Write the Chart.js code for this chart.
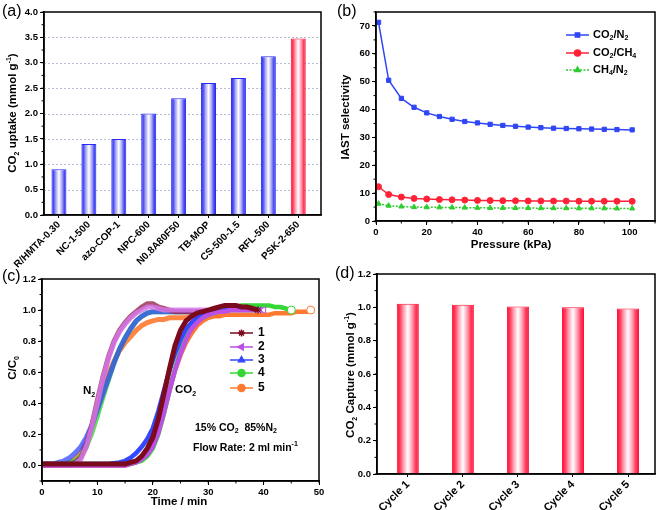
<!DOCTYPE html>
<html><head><meta charset="utf-8">
<script src="https://cdn.jsdelivr.net/npm/chart.js@4/dist/chart.umd.min.js"></script>
<style>
body{margin:0;background:#fff;width:661px;height:510px;position:relative;overflow:hidden}
canvas{position:absolute}
</style></head><body>
<canvas id="cc" width="330" height="255" style="left:0;top:255px"></canvas>
<canvas id="cd" width="331" height="255" style="left:330px;top:255px"></canvas>
<canvas id="ca" width="330" height="268" style="left:0;top:0"></canvas>
<canvas id="cb" width="331" height="260" style="left:330px;top:0"></canvas>
<script>
// ---------- DATA ----------
// (a)
const catA = ['R/HMTA-0.30','NC-1-500','azo-COP-1','NPC-600','N0.8A80F50','TB-MOP','CS-500-1.5','RFL-500','PSK-2-650'];
const uptakeA = [0.9,1.4,1.5,2.0,2.3,2.6,2.7,3.13,3.48];
const ticksAy = [0,0.5,1.0,1.5,2.0,2.5,3.0,3.5,4.0];
// (b)
const pressB = [1,5,10,15,20,25,30,35,40,45,50,55,60,65,70,75,80,85,90,95,101];
const co2n2B = [71.3,50.5,44.0,40.8,38.8,37.5,36.5,35.7,35.2,34.7,34.3,34.0,33.7,33.5,33.3,33.2,33.1,33.0,32.9,32.8,32.7];
const co2ch4B = [12.3,9.5,8.6,8.1,7.9,7.7,7.6,7.5,7.4,7.35,7.3,7.25,7.2,7.2,7.15,7.15,7.1,7.1,7.1,7.1,7.05];
const ch4n2B = [6.2,5.5,5.2,5.0,4.95,4.9,4.85,4.8,4.75,4.7,4.7,4.65,4.65,4.6,4.6,4.6,4.55,4.55,4.55,4.5,4.5];
const ticksBx = [0,20,40,60,80,100];
const ticksBy = [0,10,20,30,40,50,60,70];
// (c)
const runLabelsC = ['1','2','3','4','5'];
const timeN2C = [0,1,2,3,4,5,6,7,8,9,10,11,12,13,14,15,16,17,18,19,20,21,22,23,24,25,26,27,28,29,30];
const n2Run1 = [0.01,0.01,0.01,0.01,0.01,0.01,0.02,0.05,0.13,0.26,0.42,0.57,0.70,0.80,0.87,0.92,0.96,0.99,1.02,1.04,1.04,1.02,1.01,1.00,0.99,0.99,0.99,0.99,0.99,0.99,0.99];
const n2Run2 = [0,0,0,0,0,0,0.01,0.04,0.12,0.25,0.40,0.56,0.69,0.79,0.86,0.91,0.95,0.98,1.00,1.02,1.02,1.01,1.00,1.00,1.00,1.00,1.00,1.00,1.00,1.00,1.00];
const n2Run3 = [0.01,0.01,0.01,0.02,0.03,0.05,0.08,0.12,0.18,0.26,0.36,0.46,0.56,0.66,0.75,0.82,0.88,0.93,0.96,0.98,0.99,0.99,0.99,0.99,0.99,0.99,0.99,0.99,0.99,0.99,0.99];
const n2Run4 = [0,0,0,0,0.01,0.02,0.03,0.06,0.12,0.21,0.32,0.44,0.55,0.66,0.75,0.82,0.88,0.93,0.96,0.98,0.99,0.99,0.99,0.99,0.99,0.99,0.99,0.99,0.99,0.99,0.99];
const n2Run5 = [0,0,0,0,0.01,0.02,0.04,0.08,0.15,0.25,0.37,0.49,0.59,0.67,0.74,0.79,0.83,0.87,0.90,0.92,0.93,0.94,0.94,0.95,0.95,0.95,0.95,0.96,0.96,0.96,0.96];
const timeCO2C = [0,2,4,6,8,10,12,14,15,16,17,18,19,20,21,22,23,24,25,26,27,28,29,30,31,32,33,34,35,36,37,38,39,40,41,42,43,44,45,46,47,48,48.5];
const co2Run1 = [0.01,0.01,0.01,0.01,0.01,0.01,0.01,0.01,0.01,0.02,0.03,0.06,0.11,0.18,0.30,0.46,0.62,0.77,0.87,0.93,0.96,0.98,0.99,1.00,1.01,1.02,1.03,1.03,1.03,1.02,1.02,1.01,1.00];
const co2Run2 = [0,0,0,0,0,0,0,0,0,0.01,0.02,0.04,0.07,0.12,0.21,0.34,0.48,0.61,0.72,0.81,0.88,0.92,0.95,0.97,0.98,0.99,0.99,1.00,1.00,1.00,1.00,1.00,1.00,1.00];
const co2Run3 = [0.01,0.01,0.01,0.01,0.01,0.01,0.01,0.02,0.03,0.05,0.08,0.12,0.17,0.24,0.35,0.48,0.61,0.72,0.81,0.88,0.92,0.95,0.97,0.98,0.99,0.99,1.00,1.00,1.00,1.00,1.00,1.00,1.00,1.00];
const co2Run4 = [0.01,0.01,0.01,0.01,0.01,0.01,0.01,0.01,0.01,0.01,0.02,0.03,0.06,0.11,0.20,0.33,0.48,0.62,0.74,0.83,0.89,0.93,0.95,0.97,0.98,0.99,1.00,1.01,1.02,1.03,1.03,1.03,1.03,1.03,1.03,1.02,1.02,1.01,1.00];
const co2Run5 = [0,0,0,0,0,0,0,0,0,0.01,0.02,0.04,0.08,0.13,0.22,0.35,0.48,0.61,0.71,0.79,0.85,0.90,0.93,0.95,0.96,0.96,0.97,0.97,0.97,0.97,0.97,0.97,0.97,0.97,0.97,0.98,0.98,0.98,0.98,0.99,0.99,0.99,1.00];
const ticksCx = [0,10,20,30,40,50];
const ticksCy = [0,0.2,0.4,0.6,0.8,1.0,1.2];
// (d)
const cyclesD = ['Cycle 1','Cycle 2','Cycle 3','Cycle 4','Cycle 5'];
const captureD = [1.022,1.015,1.005,1.0,0.993];
const ticksDy = [0,0.2,0.4,0.6,0.8,1.0,1.2];

// ---------- STYLE / HELPERS ----------
const FF = "'Liberation Sans', Arial, sans-serif";
Chart.defaults.font.family = FF;
Chart.defaults.font.weight = 'bold';
Chart.defaults.color = '#000';

function rich(ctx, x, y, parts, size, align, rot, weight) {
  weight = weight || 'bold';
  ctx.save();
  ctx.translate(x, y); ctx.rotate(rot || 0);
  const fN = weight + ' ' + size + 'px ' + FF;
  const fS = weight + ' ' + Math.round(size * 0.65) + 'px ' + FF;
  let w = 0; const ws = [];
  parts.forEach(p => { ctx.font = p[1] ? fS : fN; const m = ctx.measureText(p[0]).width; ws.push(m); w += m; });
  let cx = align === 'center' ? -w / 2 : (align === 'right' ? -w : 0);
  ctx.textBaseline = 'middle'; ctx.textAlign = 'left'; ctx.fillStyle = '#000';
  parts.forEach((p, i) => {
    ctx.font = p[1] ? fS : fN;
    const dy = p[1] === 1 ? size * 0.32 : (p[1] === 2 ? -size * 0.38 : 0);
    ctx.fillText(p[0], cx, dy); cx += ws[i];
  });
  ctx.restore();
}
function seg(ctx, x1, y1, x2, y2) { ctx.beginPath(); ctx.moveTo(x1, y1); ctx.lineTo(x2, y2); ctx.stroke(); }

function linAxis(pos, min, max, ticks, size, fmt, extraTicks) {
  return {
    type: 'linear', position: pos, min: min, max: max, offset: false,
    afterBuildTicks: s => { s.ticks = ticks.map(v => ({ value: v })); },
    afterFit: s => { if (pos === 'left') s.width = size; else s.height = size; },
    grid: { drawOnChartArea: false, drawTicks: true, tickLength: 4, color: '#000', lineWidth: 1, offset: false },
    border: { display: true, color: '#000', width: 1.5 },
    ticks: Object.assign({ color: '#000', font: { size: 9.5, weight: 'bold' }, padding: 2, autoSkip: false, maxRotation: 0, callback: v => fmt(v) }, extraTicks || {})
  };
}
// bar axis: categories placed at positions 1..n on a linear scale
function barAxis(labels, min, max, size, fontSize) {
  const ax = linAxis('bottom', min, max, labels.map((l, i) => i + 1), size, v => labels[Math.round(v) - 1],
    { minRotation: 45, maxRotation: 45, padding: 1, font: { size: fontSize, weight: 'bold' } });
  ax.grid.tickLength = 3;
  return ax;
}
function gradFill(stops, pct) {
  return function (c) {
    const ch = c.chart, xs = ch.scales && ch.scales.x;
    if (!ch.chartArea || !xs || c.dataIndex === undefined) return stops[0][1];
    const x = xs.getPixelForValue(c.dataIndex + 1);
    const w = (xs.getPixelForValue(2) - xs.getPixelForValue(1)) * pct;
    const g = ch.ctx.createLinearGradient(x - w / 2, 0, x + w / 2, 0);
    stops.forEach(s => g.addColorStop(s[0], s[1]));
    return g;
  };
}
const blueStops = [[0,'#2a2af5'],[0.14,'#4a4af2'],[0.3,'#a8a8f4'],[0.5,'#ffffff'],[0.7,'#a8a8f4'],[0.86,'#4a4af2'],[1,'#2a2af5']];
const redStops = [[0,'#ff1034'],[0.14,'#ff3a5a'],[0.3,'#ff9cb0'],[0.5,'#ffffff'],[0.7,'#ff9cb0'],[0.86,'#ff3a5a'],[1,'#ff1034']];

function decor(cfg) {
  return {
    id: 'decor',
    beforeDatasetsDraw(chart) {
      if (!cfg.grid) return;
      const { ctx, chartArea: a, scales } = chart;
      ctx.save(); ctx.strokeStyle = '#b4bfd6'; ctx.lineWidth = 1; ctx.setLineDash([2, 2]);
      cfg.grid.forEach(v => { const py = Math.round(scales.y.getPixelForValue(v)) + 0.5; seg(ctx, a.left, py, a.right, py); });
      ctx.restore();
    },
    afterDraw(chart) {
      const { ctx, chartArea: a, scales } = chart;
      ctx.save();
      ctx.strokeStyle = '#000'; ctx.lineWidth = 1.5;
      ctx.strokeRect(a.left, a.top, a.right - a.left, a.bottom - a.top);
      ctx.lineWidth = 1;
      if (cfg.minorY) {
        for (let v = cfg.minorY[0]; v <= cfg.minorY[1] + 1e-9; v += cfg.minorY[2]) {
          const py = scales.y.getPixelForValue(v); seg(ctx, a.left - 2.5, py, a.left, py);
        }
      }
      if (cfg.minorX) {
        for (let v = cfg.minorX[0]; v <= cfg.minorX[1] + 1e-9; v += cfg.minorX[2]) {
          const px = scales.x.getPixelForValue(v); seg(ctx, px, a.bottom, px, a.bottom + 2.5);
        }
      }
      ctx.restore();
      if (cfg.extra) cfg.extra(chart, ctx);
    }
  };
}
const base = {
  responsive: false, animation: false, events: [],
  plugins: { legend: { display: false }, tooltip: { enabled: false } }
};

// ---------- (a) ----------
new Chart(document.getElementById('ca'), {
  type: 'bar',
  data: { datasets: [{
    data: uptakeA.map((v, i) => ({ x: i + 1, y: v })),
    backgroundColor: c => gradFill(c.dataIndex === 8 ? redStops : blueStops, 0.5)(c),
    borderColor: uptakeA.map((v, i) => i === 8 ? '#ff1034' : '#2a2af5'),
    borderWidth: 1, barPercentage: 0.5, categoryPercentage: 1
  }] },
  options: Object.assign({}, base, {
    layout: { padding: { left: 0, top: 12, right: 9, bottom: 0 } },
    scales: { x: barAxis(catA, 0.5, 9.76, 53, 10), y: linAxis('left', 0, 4, ticksAy, 44, v => v.toFixed(1)) }
  }),
  plugins: [decor({
    grid: [0.5,1,1.5,2,2.5,3,3.5],
    minorY: [0, 4, 0.25],
    extra: (ch, ctx) => {
      rich(ctx, 2, 12, [['(a)', 0]], 16, 'left', 0, 'normal');
      rich(ctx, 13, 113, [['CO', 0], ['2', 1], [' uptake (mmol g', 0], ['-1', 2], [')', 0]], 11.5, 'center', -Math.PI / 2);
    }
  })]
});

// ---------- (b) ----------
const bSeries = [
  { data: co2n2B, color: '#3046f5', style: 'rect', dash: [] },
  { data: co2ch4B, color: '#ff2236', style: 'circle', dash: [] },
  { data: ch4n2B, color: '#2ecc2e', style: 'triangle', dash: [2, 1.5] }
];
new Chart(document.getElementById('cb'), {
  type: 'scatter',
  data: { datasets: bSeries.map(s => ({
    data: pressB.map((p, i) => ({ x: p, y: s.data[i] })),
    showLine: true, borderColor: s.color, backgroundColor: s.color, borderWidth: 1.5, borderDash: s.dash,
    pointStyle: s.style, pointRadius: 3, pointBorderWidth: 1, pointBorderColor: s.color, pointBackgroundColor: s.color
  })) },
  options: Object.assign({}, base, {
    layout: { padding: { left: 0, top: 12, right: 6, bottom: 0 } },
    scales: { x: linAxis('bottom', 0, 110, ticksBx, 39, v => String(v)), y: linAxis('left', 0, 75, ticksBy, 46, v => String(v)) }
  }),
  plugins: [decor({
    minorY: [0, 75, 5], minorX: [0, 110, 10],
    extra: (ch, ctx) => {
      rich(ctx, 7, 12, [['(b)', 0]], 16, 'left', 0, 'normal');
      rich(ctx, 16, 117, [['IAST selectivity', 0]], 11.5, 'center', -Math.PI / 2);
      rich(ctx, 181, 245, [['Pressure (kPa)', 0]], 11.5, 'center', 0);
      const rows = [35, 53, 70];
      const texts = [[['CO', 0], ['2', 1], ['/N', 0], ['2', 1]], [['CO', 0], ['2', 1], ['/CH', 0], ['4', 1]], [['CH', 0], ['4', 1], ['/N', 0], ['2', 1]]];
      bSeries.forEach((s, i) => {
        ctx.save(); ctx.strokeStyle = s.color; ctx.fillStyle = s.color; ctx.lineWidth = 1.5; ctx.setLineDash(s.dash);
        seg(ctx, 236, rows[i], 259, rows[i]); ctx.setLineDash([]);
        Chart.helpers.drawPoint(ctx, { pointStyle: s.style, radius: 3, borderWidth: 1 }, 247.5, rows[i]);
        ctx.restore();
        rich(ctx, 263, rows[i], texts[i], 11, 'left', 0);
      });
    }
  })]
});

// ---------- (c) ----------
const runColors = ['#7a0a1c', '#bb4fe6', '#3348ff', '#36d636', '#ff7a30'];
const runN2Alpha = ['rgba(150,40,80,0.8)', 'rgba(214,120,235,0.85)', 'rgba(51,72,255,0.75)', 'rgba(54,214,54,0.8)', 'rgba(255,122,48,0.9)'];
const runStyles = ['star', 'triangle', 'triangle', 'circle', 'circle'];
const runRot = [0, -90, 0, 0, 0];
const co2Runs = [co2Run1, co2Run2, co2Run3, co2Run4, co2Run5];
const n2Runs = [n2Run1, n2Run2, n2Run3, n2Run4, n2Run5];
const dsC = [];
co2Runs.forEach((vals, r) => {
  const last = vals.length - 1;
  dsC.push({
    data: vals.map((v, i) => ({ x: timeCO2C[i], y: v })),
    showLine: true, borderColor: runColors[r], borderWidth: r === 0 ? 5 : 4.5,
    pointStyle: runStyles[r], rotation: runRot[r],
    pointRadius: c => (c.dataIndex === last && r !== 2) ? 4 : 0,
    pointBackgroundColor: r === 0 ? runColors[0] : '#ffffff', pointBorderColor: runColors[r], pointBorderWidth: 1
  });
});
[1, 0, 2, 3, 4].forEach(r => {
  dsC.push({
    data: n2Runs[r].map((v, i) => ({ x: timeN2C[i], y: v })),
    showLine: true, borderColor: runN2Alpha[r], borderWidth: 5, pointRadius: 0
  });
});
new Chart(document.getElementById('cc'), {
  type: 'scatter',
  data: { datasets: dsC },
  options: Object.assign({}, base, {
    layout: { padding: { left: 0, top: 24, right: 11, bottom: 0 } },
    scales: { x: linAxis('bottom', 0, 50, ticksCx, 29, v => String(v)), y: linAxis('left', -0.1, 1.2, ticksCy, 42, v => v.toFixed(1)) }
  }),
  plugins: [decor({
    minorY: [-0.1, 1.2, 0.1], minorX: [0, 50, 5],
    extra: (ch, ctx) => {
      rich(ctx, 2, 22, [['(c)', 0]], 16, 'left', 0, 'normal');
      rich(ctx, 13, 113, [['C/C', 0], ['0', 1]], 11.5, 'center', -Math.PI / 2);
      rich(ctx, 179, 247, [['Time / min', 0]], 11.5, 'center', 0);
      rich(ctx, 83, 136, [['N', 0], ['2', 1]], 11.5, 'left', 0);
      rich(ctx, 175, 135, [['CO', 0], ['2', 1]], 11.5, 'left', 0);
      rich(ctx, 195, 173, [['15% CO', 0], ['2', 1], ['  85%N', 0], ['2', 1]], 10.5, 'left', 0);
      rich(ctx, 193, 193, [['Flow Rate: 2 ml min', 0], ['-1', 2]], 10.5, 'left', 0);
      const rows = [78, 92, 105, 118, 133];
      runLabelsC.forEach((lab, r) => {
        ctx.save(); ctx.strokeStyle = runColors[r]; ctx.lineWidth = 1.5;
        seg(ctx, 230, rows[r], 253, rows[r]);
        ctx.fillStyle = runColors[r];
        Chart.helpers.drawPoint(ctx, { pointStyle: runStyles[r], rotation: runRot[r], radius: 3.5, borderWidth: 1 }, 241.5, rows[r]);
        ctx.restore();
        rich(ctx, 258, rows[r], [[lab, 0]], 12, 'left', 0);
      });
    }
  })]
});

// ---------- (d) ----------
new Chart(document.getElementById('cd'), {
  type: 'bar',
  data: { datasets: [{
    data: captureD.map((v, i) => ({ x: i + 1, y: v })),
    backgroundColor: gradFill(redStops, 0.4),
    borderColor: '#ff1034', borderWidth: 1, barPercentage: 0.4, categoryPercentage: 1
  }] },
  options: Object.assign({}, base, {
    layout: { padding: { left: 0, top: 19, right: 6, bottom: 0 } },
    scales: { x: barAxis(cyclesD, 0.44, 5.49, 36, 11), y: linAxis('left', 0, 1.2, ticksDy, 47, v => v.toFixed(1)) }
  }),
  plugins: [decor({
    minorY: [0, 1.2, 0.1],
    extra: (ch, ctx) => {
      rich(ctx, 5, 19, [['(d)', 0]], 16, 'left', 0, 'normal');
      rich(ctx, 21, 120, [['CO', 0], ['2', 1], [' Capture (mmol g', 0], ['-1', 2], [')', 0]], 11.5, 'center', -Math.PI / 2);
    }
  })]
});
</script>
</body></html>
